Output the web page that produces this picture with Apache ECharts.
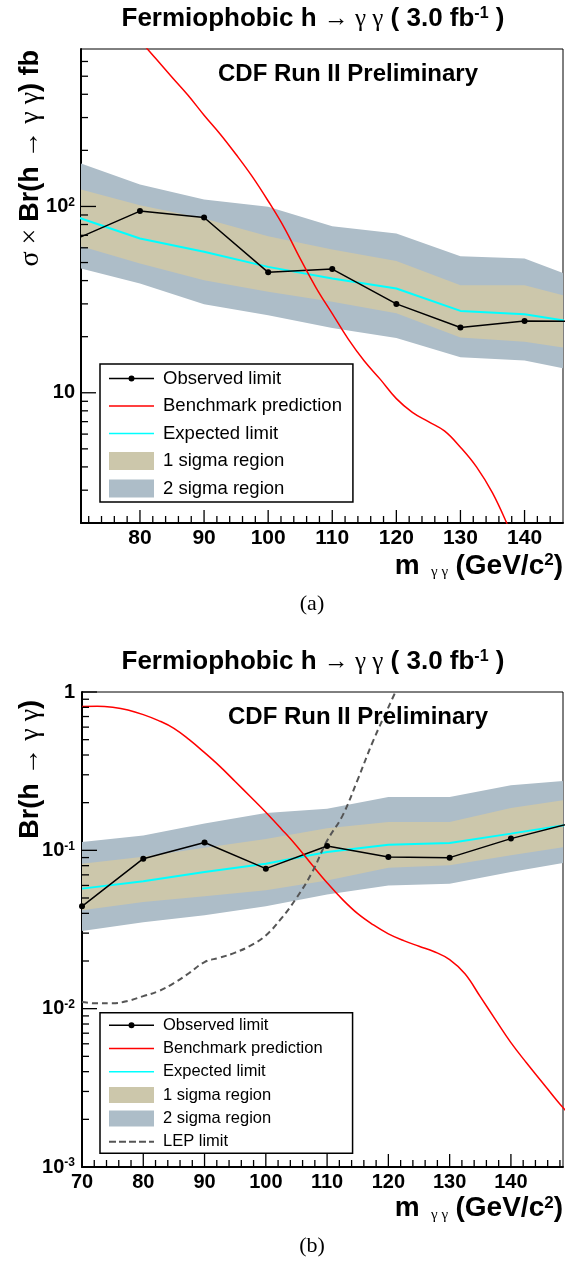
<!DOCTYPE html>
<html><head><meta charset="utf-8">
<script src="https://cdn.jsdelivr.net/npm/echarts@6/dist/echarts.min.js"></script>
<style>
body{margin:0;background:#fff}
#ca{position:absolute;left:0;top:0;width:570px;height:620px}
#cb{position:absolute;left:0;top:620px;width:570px;height:641px}
</style>
</head><body><div id="ca"></div><div id="cb"></div>
<script>
// ---------------- data ----------------
const massPoints = [70, 80, 90, 100, 110, 120, 130, 140, 150];
// (a) sigma x Br limits [fb]
const obsTop   = [66.8, 94.4, 87.3, 44.3, 46.1, 30.0, 22.4, 24.3, 24.1];
const expTop   = [88.1, 67.3, 57.1, 47.4, 41.1, 36.3, 27.5, 26.4, 23.3];
const s1HiTop  = [125.4, 101.6, 86.2, 69.3, 58.7, 50.9, 37.8, 37.8, 30.7];
const s1LoTop  = [62.4, 49.4, 40.2, 34.8, 30.8, 26.7, 19.8, 18.8, 16.7];
const s2HiTop  = [174, 131, 109, 99.6, 78.3, 71.6, 54.1, 52.6, 38.9];
const s2LoTop  = [47.2, 38.6, 29.9, 26.1, 22.3, 19.7, 15.5, 14.9, 12.7];
// (b) Br limits
const obsBot   = [0.0443, 0.0886, 0.112, 0.0766, 0.1064, 0.0907, 0.0899, 0.1186, 0.149];
const expBot   = [0.0573, 0.0637, 0.0729, 0.0824, 0.0976, 0.1086, 0.1112, 0.1275, 0.147];
const s1HiBot  = [0.0824, 0.091, 0.104, 0.118, 0.138, 0.151, 0.151, 0.185, 0.211];
const s1LoBot  = [0.0418, 0.0471, 0.0512, 0.0559, 0.0646, 0.0777, 0.0804, 0.093, 0.107];
const s2HiBot  = [0.1128, 0.1243, 0.1475, 0.172, 0.1834, 0.217, 0.217, 0.2575, 0.277];
const s2LoBot  = [0.0309, 0.0352, 0.0389, 0.0443, 0.0527, 0.060, 0.0616, 0.073, 0.085];
// benchmark prediction
const benchMass = [70, 72.5, 75, 77.5, 80, 82.5, 85, 87.5, 90, 92.5, 95, 97.5, 100, 102.5, 105, 107.5, 110,
                   112.5, 115, 117.5, 120, 122.5, 125, 127.5, 130, 132.5, 135, 137.5, 140, 142.5, 145, 147.5, 150];
const benchTop = [1780, 1450, 1180, 960, 776, 620, 494, 395, 309, 245, 190, 145, 107, 77, 52.5, 36.5, 26.6,
                  19.4, 14.8, 11.8, 9.3, 7.85, 7.0, 6.24, 5.1, 4.0, 2.9, 1.9, 1.2, 0.8, 0.55, 0.4, 0.3];
const benchBot = [0.81, 0.812, 0.80, 0.77, 0.72, 0.66, 0.59, 0.50, 0.414, 0.339, 0.272, 0.218, 0.174, 0.137, 0.107, 0.0813, 0.0624,
                  0.049, 0.0398, 0.0339, 0.0297, 0.0269, 0.0248, 0.0229, 0.0204, 0.0166, 0.0119, 0.0085, 0.0061, 0.00457, 0.00347, 0.00263, 0.00204];
// LEP limit
const lepMass = [70, 72.5, 75, 77.5, 80, 82.5, 85, 87.5, 90, 92.5, 95, 97.5, 100, 102.5, 105, 107.5, 110, 112.5, 115, 117.5, 120, 122.5];
const lepBot  = [0.011, 0.0108, 0.0108, 0.0112, 0.012, 0.0129, 0.0145, 0.0168, 0.0197, 0.021, 0.0226, 0.025, 0.029, 0.037, 0.05, 0.072, 0.115, 0.165, 0.28, 0.49, 0.8, 1.3];

// tick values
const topXMajor = [80, 90, 100, 110, 120, 130, 140];
const topXMinor = [72, 74, 76, 78, 82, 84, 86, 88, 92, 94, 96, 98, 102, 104, 106, 108, 112, 114, 116, 118, 122, 124, 126, 128, 132, 134, 136, 138, 142, 144];
const topYMajor = [10, 100];
const topYMinor = [2, 3, 4, 5, 6, 7, 8, 9, 20, 30, 40, 50, 60, 70, 80, 90, 200, 300, 400, 500, 600];
const botXMajor = [70, 80, 90, 100, 110, 120, 130, 140];
const botXMinor = [72, 74, 76, 78, 82, 84, 86, 88, 92, 94, 96, 98, 102, 104, 106, 108, 112, 114, 116, 118, 122, 124, 126, 128, 132, 134, 136, 138, 142, 144, 146, 148];
const botYMajor = [0.001, 0.01, 0.1, 1];
const botYMinor = [0.002, 0.003, 0.004, 0.005, 0.006, 0.007, 0.008, 0.009, 0.02, 0.03, 0.04, 0.05, 0.06, 0.07, 0.08, 0.09, 0.2, 0.3, 0.4, 0.5, 0.6, 0.7, 0.8, 0.9];

// ---------------- styles ----------------
const SANS = '"Liberation Sans", Arial, Helvetica, sans-serif';
const SERIF = '"Liberation Serif", "DejaVu Serif", serif';
const C_S1 = '#ccc7ab', C_S2 = '#adbdc8', C_RED = '#ff0000', C_CYAN = '#00ffff', C_LEP = '#555555';

const ICON_LINE = 'path://M0,0H45V1.6H0Z';
const ICON_OBS = 'path://M0,2.2H45V3.8H0Z M19.5,3 A3,3 0 1 1 25.5,3 A3,3 0 1 1 19.5,3 Z';
const ICON_DASH = 'path://M0,0H7V2H0Z M10,0H17V2H10Z M20,0H27V2H20Z M30,0H37V2H30Z M40,0H45V2H40Z';

const zip = (xs, ys) => xs.map((x, i) => [x, ys[i]]);

function bandSeries(name, xs, lo, hi, color) {
  return {
    type: 'custom', name, clip: true, z: 1, silent: true,
    itemStyle: { color },
    data: xs.map((x, i) => [x, lo[i], hi[i]]),
    encode: { x: 0, y: [1, 2] },
    renderItem(params, api) {
      if (params.dataIndex !== 0) return null;
      const up = xs.map((x, i) => api.coord([x, hi[i]]));
      const dn = xs.map((x, i) => api.coord([x, lo[i]])).reverse();
      return { type: 'polygon', shape: { points: up.concat(dn) }, style: { fill: color } };
    }
  };
}

function tickSeries(xMaj, xMin, yMaj, yMin, L) {
  return {
    type: 'custom', silent: true, z: 20, clip: false,
    data: [[xMaj[1], yMaj[1]]],
    encode: { x: 0, y: 1 },
    renderItem(params, api) {
      if (params.dataIndex !== 0) return null;
      const cs = params.coordSys;
      const bottom = cs.y + cs.height, left = cs.x;
      const xr = xMaj[1], yr = yMaj[1];
      const ch = [];
      const ln = (x1, y1, x2, y2) => ch.push({ type: 'line', shape: { x1, y1, x2, y2 }, style: { stroke: '#000', lineWidth: 1.3 } });
      xMaj.forEach(v => { const p = api.coord([v, yr])[0]; ln(p, bottom, p, bottom - L.xMaj); });
      xMin.forEach(v => { const p = api.coord([v, yr])[0]; ln(p, bottom, p, bottom - L.xMin); });
      yMaj.forEach(v => { const p = api.coord([xr, v])[1]; ln(left, p, left + L.yMaj, p); });
      yMin.forEach(v => { const p = api.coord([xr, v])[1]; ln(left, p, left + L.yMin, p); });
      return { type: 'group', children: ch };
    }
  };
}

function lineSeries(name, data, color, width, extra) {
  return Object.assign({
    type: 'line', name, data, z: 5,
    showSymbol: false, symbol: 'none',
    lineStyle: { color, width },
    itemStyle: { color },
    clip: true, silent: true
  }, extra || {});
}

function axisRich(fs, sfs) {
  return {
    b: { fontFamily: SANS, fontWeight: 'bold', fontSize: fs, color: '#000' },
    s: { fontFamily: SANS, fontWeight: 'bold', fontSize: sfs, color: '#000', verticalAlign: 'top' }
  };
}

function gRich(fs, nfs) {
  return {
    b: { fontFamily: SANS, fontWeight: 'bold', fontSize: fs, fill: '#000' },
    n: { fontFamily: SERIF, fontSize: nfs || fs - 2, fill: '#000' },
    s: { fontFamily: SANS, fontWeight: 'bold', fontSize: Math.round(fs * 0.6), fill: '#000', verticalAlign: 'top' },
    sub: { fontFamily: SERIF, fontSize: Math.round(fs * 0.55), fill: '#000', verticalAlign: 'bottom' }
  };
}

const TITLE_TXT = '{b|Fermiophobic h }{n|→ γ γ}{b| ( 3.0 fb}{s|-1}{b| )}';
const XTITLE_TXT = '{b|m}{sub|   γ γ  }{b|(GeV/c}{s|2}{b|)}';

// ---------------- chart (a) ----------------
const chartA = echarts.init(document.getElementById('ca'), null, { renderer: 'canvas' });
chartA.setOption({
  animation: false,
  backgroundColor: '#fff',
  grid: { left: 81, top: 49, width: 482, height: 474, show: true, borderColor: '#000', borderWidth: 1, backgroundColor: 'transparent' },
  xAxis: {
    type: 'value', min: 70.8, max: 146, splitNumber: 8,
    axisLine: { show: true, lineStyle: { color: '#000', width: 2 } },
    axisTick: { show: false }, splitLine: { show: false },
    axisLabel: { showMinLabel: false, showMaxLabel: false, margin: 5,
      fontFamily: SANS, fontWeight: 'bold', fontSize: 21, color: '#000' }
  },
  yAxis: {
    type: 'log', logBase: 10, min: 2, max: 700,
    axisLine: { show: true, lineStyle: { color: '#000', width: 2 } },
    axisTick: { show: false }, splitLine: { show: false },
    axisLabel: { showMinLabel: false, showMaxLabel: false, margin: 6,
      formatter: v => { const e = Math.round(Math.log10(v)); return e === 1 ? '{b|10}' : '{b|10}{s|' + e + '}'; },
      rich: axisRich(20, 12) }
  },
  legend: {
    orient: 'vertical', left: 100, top: 364, selectedMode: false,
    itemWidth: 45, itemHeight: 18, itemGap: 8.5,
    padding: [5, 11, 4, 9],
    borderColor: '#000', borderWidth: 1.5, backgroundColor: '#fff',
    itemStyle: { borderWidth: 0 },
    textStyle: { fontFamily: SANS, fontSize: 18.5, color: '#000', lineHeight: 18, padding: [0, 0, 0, 4] },
    data: [
      { name: 'Observed limit', icon: ICON_OBS },
      { name: 'Benchmark prediction', icon: ICON_LINE },
      { name: 'Expected limit', icon: ICON_LINE },
      { name: '1 sigma region', icon: 'rect' },
      { name: '2 sigma region', icon: 'rect' }
    ]
  },
  series: [
    bandSeries('2 sigma region', massPoints, s2LoTop, s2HiTop, C_S2),
    bandSeries('1 sigma region', massPoints, s1LoTop, s1HiTop, C_S1),
    lineSeries('Expected limit', zip(massPoints, expTop), C_CYAN, 2),
    lineSeries('Observed limit', zip(massPoints, obsTop), '#000', 1.5, { showSymbol: true, symbol: 'circle', symbolSize: 6 }),
    lineSeries('Benchmark prediction', zip(benchMass, benchTop), C_RED, 1.5, { smooth: 0.4 }),
    tickSeries(topXMajor, topXMinor, topYMajor, topYMinor, { xMaj: 13, xMin: 7, yMaj: 15, yMin: 7 })
  ],
  graphic: [
    { type: 'text', x: 313, y: 19, z: 50, style: { text: TITLE_TXT, rich: gRich(26, 25), align: 'center', verticalAlign: 'middle' } },
    { type: 'text', x: 348, y: 74, z: 50, style: { text: 'CDF Run II Preliminary', fontFamily: SANS, fontWeight: 'bold', fontSize: 24, fill: '#000', align: 'center', verticalAlign: 'middle' } },
    { type: 'text', x: 31, y: 50, rotation: Math.PI / 2, z: 50, style: { text: '{n|σ × }{b|Br(h }{n|→ γ γ}{b|) fb}', rich: gRich(27, 28), align: 'right', verticalAlign: 'middle' } },
    { type: 'text', x: 563, y: 566, z: 50, style: { text: XTITLE_TXT, rich: gRich(28), align: 'right', verticalAlign: 'middle' } },
    { type: 'text', x: 312, y: 604, z: 50, style: { text: '(a)', fontFamily: SERIF, fontSize: 22, fill: '#000', align: 'center', verticalAlign: 'middle' } }
  ]
});

// ---------------- chart (b) ----------------
const chartB = echarts.init(document.getElementById('cb'), null, { renderer: 'canvas' });
chartB.setOption({
  animation: false,
  backgroundColor: '#fff',
  grid: { left: 82, top: 72, width: 481, height: 475, show: true, borderColor: '#000', borderWidth: 1, backgroundColor: 'transparent' },
  xAxis: {
    type: 'value', min: 70, max: 148.5, splitNumber: 8,
    axisLine: { show: true, lineStyle: { color: '#000', width: 2 } },
    axisTick: { show: false }, splitLine: { show: false },
    axisLabel: { showMinLabel: true, showMaxLabel: false, margin: 5,
      fontFamily: SANS, fontWeight: 'bold', fontSize: 20, color: '#000' }
  },
  yAxis: {
    type: 'log', logBase: 10, min: 0.001, max: 1,
    axisLine: { show: true, lineStyle: { color: '#000', width: 2 } },
    axisTick: { show: false }, splitLine: { show: false },
    axisLabel: { margin: 7,
      formatter: v => { const e = Math.round(Math.log10(v)); return e === 0 ? '{b|1}' : '{b|10}{s|' + e + '}'; },
      rich: axisRich(20, 12) }
  },
  legend: {
    orient: 'vertical', left: 100, top: 392.7, selectedMode: false,
    itemWidth: 45, itemHeight: 16, itemGap: 6.3,
    padding: [4, 30, 3, 9],
    borderColor: '#000', borderWidth: 1.5, backgroundColor: '#fff',
    itemStyle: { borderWidth: 0 },
    textStyle: { fontFamily: SANS, fontSize: 16.5, color: '#000', lineHeight: 16, padding: [0, 0, 0, 4] },
    data: [
      { name: 'Observed limit', icon: ICON_OBS },
      { name: 'Benchmark prediction', icon: ICON_LINE },
      { name: 'Expected limit', icon: ICON_LINE },
      { name: '1 sigma region', icon: 'rect' },
      { name: '2 sigma region', icon: 'rect' },
      { name: 'LEP limit', icon: ICON_DASH }
    ]
  },
  series: [
    bandSeries('2 sigma region', massPoints, s2LoBot, s2HiBot, C_S2),
    bandSeries('1 sigma region', massPoints, s1LoBot, s1HiBot, C_S1),
    lineSeries('Expected limit', zip(massPoints, expBot), C_CYAN, 2),
    lineSeries('Observed limit', zip(massPoints, obsBot), '#000', 1.5, { showSymbol: true, symbol: 'circle', symbolSize: 6 }),
    lineSeries('Benchmark prediction', zip(benchMass, benchBot), C_RED, 1.5, { smooth: 0.4 }),
    lineSeries('LEP limit', zip(lepMass, lepBot), C_LEP, 2, { smooth: 0.4, lineStyle: { color: C_LEP, width: 2, type: [6, 4] } }),
    tickSeries(botXMajor, botXMinor, botYMajor, botYMinor, { xMaj: 13, xMin: 7, yMaj: 15, yMin: 7 })
  ],
  graphic: [
    { type: 'text', x: 313, y: 42, z: 50, style: { text: TITLE_TXT, rich: gRich(26, 25), align: 'center', verticalAlign: 'middle' } },
    { type: 'text', x: 358, y: 97, z: 50, style: { text: 'CDF Run II Preliminary', fontFamily: SANS, fontWeight: 'bold', fontSize: 24, fill: '#000', align: 'center', verticalAlign: 'middle' } },
    { type: 'text', x: 31, y: 80, rotation: Math.PI / 2, z: 50, style: { text: '{b|Br(h }{n|→ γ γ}{b|)}', rich: gRich(27, 28), align: 'right', verticalAlign: 'middle' } },
    { type: 'text', x: 563, y: 588.5, z: 50, style: { text: XTITLE_TXT, rich: gRich(28), align: 'right', verticalAlign: 'middle' } },
    { type: 'text', x: 312, y: 626, z: 50, style: { text: '(b)', fontFamily: SERIF, fontSize: 22, fill: '#000', align: 'center', verticalAlign: 'middle' } }
  ]
});
</script>
</body></html>
